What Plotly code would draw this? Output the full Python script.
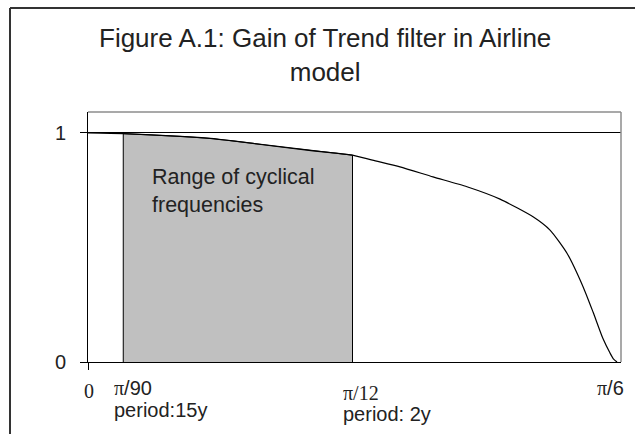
import plotly.graph_objects as go

# ---- data ----
# frequency in radians (0 .. pi/6), gain of the trend filter
freq = [0.0, 0.0349, 0.0911, 0.1208, 0.1435, 0.1633, 0.1831, 0.2029, 0.2227,
        0.2425, 0.2618, 0.2816, 0.3088, 0.3415, 0.3751, 0.4078, 0.4405,
        0.4573, 0.4741, 0.4900, 0.4999, 0.5098, 0.5167, 0.5200, 0.5236]
gain = [1.000, 0.997, 0.985, 0.976, 0.965, 0.954, 0.943, 0.932, 0.922,
        0.913, 0.903, 0.881, 0.852, 0.808, 0.765, 0.711, 0.634,
        0.576, 0.475, 0.329, 0.218, 0.101, 0.039, 0.014, 0.000]

band_lo = 0.0349   # pi/90  (period 15y)
band_hi = 0.2618   # pi/12  (period 2y)
x_max = 0.5236     # pi/6

y_ticks = [0, 1]
y_tick_text = ["0", "1"]

title_text = "Figure A.1: Gain of Trend filter in Airline<br>model"
band_text = "Range of cyclical<br>frequencies"

# ---- layout helpers ----
W, H = 635, 434
L, R, T, B = 88, 14, 112, 72
PW, PH = W - L - R, H - T - B


def px2x(px):
    return (px - L) / PW


def py2y(py):
    return (H - B - py) / PH


SANS = "Liberation Sans, Arial, sans-serif"
SERIF = "Liberation Serif, Times New Roman, serif"
TXT = "#222222"

band_x = [band_lo] + [f for f in freq if band_lo - 1e-9 <= f <= band_hi + 1e-9] + [band_hi]
band_y = [0] + [g for f, g in zip(freq, gain) if band_lo - 1e-9 <= f <= band_hi + 1e-9] + [0]

fig = go.Figure()
fig.add_trace(go.Scatter(x=band_x, y=band_y, mode="lines", fill="toself",
                         fillcolor="#C0C0C0", line=dict(color="black", width=1),
                         hoverinfo="skip", showlegend=False))
fig.add_trace(go.Scatter(x=freq, y=gain, mode="lines",
                         line=dict(color="black", width=1.2, shape="spline", smoothing=0.6),
                         showlegend=False))

x_range_max = x_max * (PW) / (617 - L)
fig.update_xaxes(range=[0, x_range_max], showgrid=False, zeroline=False,
                 showline=True, linecolor="black", linewidth=1,
                 tickvals=[0], ticks="outside", ticklen=7, tickcolor="black",
                 showticklabels=False)
fig.update_yaxes(range=[0, 1.0914], tickvals=y_ticks, ticktext=y_tick_text,
                 showgrid=True, gridcolor="black", gridwidth=1, zeroline=False,
                 showline=True, linecolor="black", linewidth=1,
                 ticks="outside", ticklen=7, tickcolor="black",
                 ticklabelstandoff=10,
                 tickfont=dict(family=SANS, size=20, color=TXT))

shapes = [
    # plot-area border (top, right) in grey
    dict(type="line", xref="paper", yref="paper", x0=0, x1=1, y0=1, y1=1,
         line=dict(color="#8c8c8c", width=1.5)),
    dict(type="line", xref="paper", yref="paper", x0=1, x1=1, y0=0, y1=1,
         line=dict(color="#8c8c8c", width=1.5)),
    # outer frame (top, left)
    dict(type="line", xref="paper", yref="paper", x0=px2x(10), x1=px2x(645),
         y0=py2y(8), y1=py2y(8), line=dict(color="#333333", width=2)),
    dict(type="line", xref="paper", yref="paper", x0=px2x(10), x1=px2x(10),
         y0=py2y(8), y1=py2y(445), line=dict(color="#333333", width=2)),
]

ann = []
ann.append(dict(text=title_text, xref="paper", yref="paper", x=px2x(325), y=py2y(55),
                xanchor="center", yanchor="middle", showarrow=False, align="center",
                font=dict(family=SANS, size=26, color=TXT)))
ann.append(dict(text=band_text, xref="paper", yref="paper", x=px2x(150), y=py2y(191),
                xanchor="left", yanchor="middle", showarrow=False, align="left",
                font=dict(family=SANS, size=21.5, color=TXT)))


def lab(text, px, py, anchor="left", family=SANS):
    ann.append(dict(text=text, xref="paper", yref="paper", x=px2x(px), y=py2y(py),
                    xanchor=anchor, yanchor="middle", showarrow=False,
                    font=dict(family=family, size=20, color=TXT)))


pi_s = f'<span style="font-family:{SERIF}">π</span>'
lab("0", 89, 391, anchor="center", family=SERIF)
lab(pi_s + "/90", 112, 388)
lab("period:15y", 112, 410)
lab("π/12", 341, 393, family=SERIF)
lab("period: 2y", 341, 414)
lab(pi_s + "/6", 595, 388)

fig.update_layout(width=W, height=H, margin=dict(l=L, r=R, t=T, b=B),
                  paper_bgcolor="white", plot_bgcolor="white",
                  shapes=shapes, annotations=ann, showlegend=False)

fig.write_html("out.html", config={"displayModeBar": False},
               post_script="document.body.style.margin='0';document.body.style.overflow='hidden';")
